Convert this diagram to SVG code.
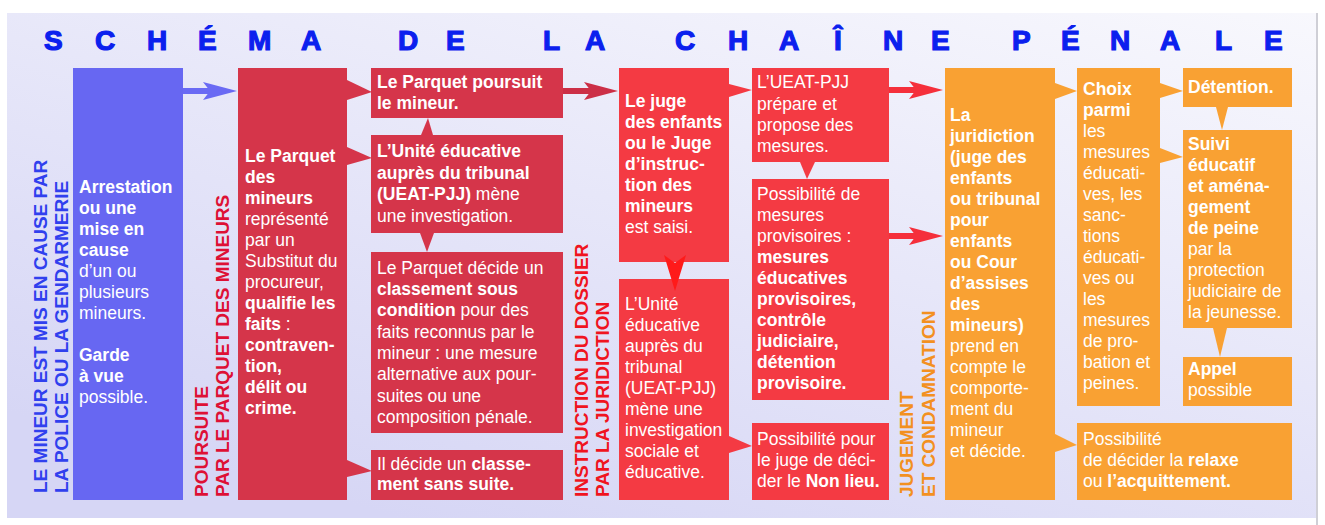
<svg xmlns="http://www.w3.org/2000/svg" width="1325" height="525" viewBox="0 0 1325 525">
<defs>
<linearGradient id="bg" x1="1" y1="0" x2="0.3" y2="1">
<stop offset="0" stop-color="#f8f8fd"/>
<stop offset="1" stop-color="#d6d6f5"/>
</linearGradient>
<marker id="mb" markerUnits="userSpaceOnUse" markerWidth="34" markerHeight="20" viewBox="0 0 34 20" refX="14" refY="10" orient="auto"><path d="M0,1 L34,10 L0,19 L7,10 z" fill="#6a6af4"/></marker>
<marker id="md" markerUnits="userSpaceOnUse" markerWidth="34" markerHeight="20" viewBox="0 0 34 20" refX="14" refY="10" orient="auto"><path d="M0,1 L34,10 L0,19 L7,10 z" fill="#cc2f47"/></marker>
<marker id="mr" markerUnits="userSpaceOnUse" markerWidth="34" markerHeight="20" viewBox="0 0 34 20" refX="14" refY="10" orient="auto"><path d="M0,1 L34,10 L0,19 L7,10 z" fill="#f52f3b"/></marker>
</defs>
<style>
text{font-family:"Liberation Sans",Arial,sans-serif}
.t{font-size:17.5px;fill:#ffffff}
.b{font-weight:bold}
.v{font-size:19px;font-weight:bold}
.blue{fill:#6767f2}
.dred{fill:#d5354a}
.red{fill:#f43a43}
.org{fill:#f9a133}
.title{font-size:28px;font-weight:bold;fill:#0b20ee;stroke:#0b20ee;stroke-width:1.2}
</style>
<rect x="0" y="0" width="1325" height="525" fill="#ffffff"/>
<rect x="7" y="13" width="1309" height="505" fill="url(#bg)"/>
<line x1="1317" y1="13" x2="1317" y2="525" stroke="#cfcfd6" stroke-width="2"/>

<g id="title">
<text class="title" y="50" x="44 95 147 198 248 301 350 398 446 500 543 585 630 675 728 779 834 883 931 975 1012 1061 1110 1160 1215 1264">SCHÉMA DE LA CHAÎNE PÉNALE</text>
</g>

<g id="labels">
<text class="v" fill="#3040ee" transform="translate(47,493) rotate(-90)">LE MINEUR EST MIS EN CAUSE PAR</text>
<text class="v" fill="#3040ee" transform="translate(68,493) rotate(-90)">LA POLICE OU LA GENDARMERIE</text>
<text class="v" fill="#de1035" transform="translate(208,497) rotate(-90)">POURSUITE</text>
<text class="v" fill="#de1035" transform="translate(229,497) rotate(-90)">PAR LE PARQUET DES MINEURS</text>
<text class="v" fill="#f01420" transform="translate(588,497) rotate(-90)">INSTRUCTION DU DOSSIER</text>
<text class="v" fill="#f01420" transform="translate(609,497) rotate(-90)">PAR LA JURIDICTION</text>
<text class="v" fill="#f39020" transform="translate(913,497) rotate(-90)">JUGEMENT</text>
<text class="v" fill="#f39020" transform="translate(935,497) rotate(-90)">ET CONDAMNATION</text>
</g>

<g id="n-arrestation">
<rect class="blue" x="73" y="68" width="110" height="432"/>
<text class="t" x="79"><tspan class="b" x="79" y="193">Arrestation</tspan><tspan class="b" x="79" y="214">ou une</tspan><tspan class="b" x="79" y="235">mise en</tspan><tspan class="b" x="79" y="256">cause</tspan><tspan x="79" y="277">d’un ou</tspan><tspan x="79" y="298">plusieurs</tspan><tspan x="79" y="319">mineurs.</tspan><tspan class="b" x="79" y="361">Garde</tspan><tspan class="b" x="79" y="382">à vue</tspan><tspan x="79" y="403">possible.</tspan></text>
</g>

<g id="n-parquet-mineurs">
<rect class="dred" x="238" y="68" width="109" height="432"/>
<text class="t"><tspan class="b" x="245" y="162">Le Parquet</tspan><tspan class="b" x="245" y="183">des</tspan><tspan class="b" x="245" y="204">mineurs</tspan><tspan x="245" y="225">représenté</tspan><tspan x="245" y="246">par un</tspan><tspan x="245" y="267">Substitut du</tspan><tspan x="245" y="288">procureur,</tspan><tspan class="b" x="245" y="309">qualifie les</tspan><tspan class="b" x="245" y="330">faits</tspan><tspan> :</tspan><tspan class="b" x="245" y="351">contraven-</tspan><tspan class="b" x="245" y="372">tion,</tspan><tspan class="b" x="245" y="393">délit ou</tspan><tspan class="b" x="245" y="414">crime.</tspan></text>
</g>

<g id="n-poursuit">
<rect class="dred" x="371" y="68" width="192" height="50"/>
<text class="t b"><tspan x="377" y="88">Le Parquet poursuit</tspan><tspan x="377" y="109">le mineur.</tspan></text>
</g>

<g id="n-ueat1">
<rect class="dred" x="371" y="135" width="192" height="98"/>
<text class="t"><tspan class="b" x="377" y="157">L’Unité éducative</tspan><tspan class="b" x="377" y="179">auprès du tribunal</tspan><tspan class="b" x="377" y="200">(UEAT-PJJ)</tspan><tspan> mène</tspan><tspan x="377" y="222">une investigation.</tspan></text>
</g>

<g id="n-classement-condition">
<rect class="dred" x="371" y="252" width="192" height="181"/>
<text class="t"><tspan x="377" y="274">Le Parquet décide un</tspan><tspan class="b" x="377" y="295">classement sous</tspan><tspan class="b" x="377" y="316">condition</tspan><tspan> pour des</tspan><tspan x="377" y="338">faits reconnus par le</tspan><tspan x="377" y="359">mineur : une mesure</tspan><tspan x="377" y="380">alternative aux pour-</tspan><tspan x="377" y="402">suites ou une</tspan><tspan x="377" y="423">composition pénale.</tspan></text>
</g>

<g id="n-sans-suite">
<rect class="dred" x="371" y="450" width="192" height="50"/>
<text class="t"><tspan x="377" y="470">Il décide un </tspan><tspan class="b">classe-</tspan><tspan class="b" x="377" y="490">ment sans suite.</tspan></text>
</g>

<g id="n-juge">
<rect class="red" x="619" y="68" width="110" height="194"/>
<text class="t"><tspan class="b" x="625" y="107">Le juge</tspan><tspan class="b" x="625" y="128">des enfants</tspan><tspan class="b" x="625" y="149">ou le Juge</tspan><tspan class="b" x="625" y="170">d’instruc-</tspan><tspan class="b" x="625" y="191">tion des</tspan><tspan class="b" x="625" y="212">mineurs</tspan><tspan x="625" y="233">est saisi.</tspan></text>
</g>

<g id="n-ueat2">
<rect class="red" x="619" y="279" width="110" height="221"/>
<text class="t"><tspan x="625" y="310">L’Unité</tspan><tspan x="625" y="331">éducative</tspan><tspan x="625" y="352">auprès du</tspan><tspan x="625" y="373">tribunal</tspan><tspan x="625" y="394">(UEAT-PJJ)</tspan><tspan x="625" y="415">mène une</tspan><tspan x="625" y="436">investigation</tspan><tspan x="625" y="457">sociale et</tspan><tspan x="625" y="478">éducative.</tspan></text>
</g>

<g id="n-propose">
<rect class="red" x="752" y="68" width="137" height="94"/>
<text class="t"><tspan x="757" y="88">L’UEAT-PJJ</tspan><tspan x="757" y="110">prépare et</tspan><tspan x="757" y="131">propose des</tspan><tspan x="757" y="152">mesures.</tspan></text>
</g>

<g id="n-provisoires">
<rect class="red" x="752" y="179" width="137" height="221"/>
<text class="t"><tspan x="757" y="200">Possibilité de</tspan><tspan x="757" y="221">mesures</tspan><tspan x="757" y="242">provisoires :</tspan><tspan class="b" x="757" y="263">mesures</tspan><tspan class="b" x="757" y="284">éducatives</tspan><tspan class="b" x="757" y="305">provisoires,</tspan><tspan class="b" x="757" y="326">contrôle</tspan><tspan class="b" x="757" y="347">judiciaire,</tspan><tspan class="b" x="757" y="368">détention</tspan><tspan class="b" x="757" y="389">provisoire.</tspan></text>
</g>

<g id="n-non-lieu">
<rect class="red" x="752" y="423" width="137" height="77"/>
<text class="t"><tspan x="757" y="445">Possibilité pour</tspan><tspan x="757" y="466">le juge de déci-</tspan><tspan x="757" y="487">der le </tspan><tspan class="b">Non lieu.</tspan></text>
</g>

<g id="n-juridiction">
<rect class="org" x="945" y="68" width="110" height="432"/>
<text class="t"><tspan class="b" x="950" y="121">La</tspan><tspan class="b" x="950" y="142">juridiction</tspan><tspan class="b" x="950" y="163">(juge des</tspan><tspan class="b" x="950" y="184">enfants</tspan><tspan class="b" x="950" y="205">ou tribunal</tspan><tspan class="b" x="950" y="226">pour</tspan><tspan class="b" x="950" y="247">enfants</tspan><tspan class="b" x="950" y="268">ou Cour</tspan><tspan class="b" x="950" y="289">d’assises</tspan><tspan class="b" x="950" y="310">des</tspan><tspan class="b" x="950" y="331">mineurs)</tspan><tspan x="950" y="352">prend en</tspan><tspan x="950" y="373">compte le</tspan><tspan x="950" y="394">comporte-</tspan><tspan x="950" y="415">ment du</tspan><tspan x="950" y="436">mineur</tspan><tspan x="950" y="457">et décide.</tspan></text>
</g>

<g id="n-choix">
<rect class="org" x="1077" y="68" width="83" height="338"/>
<text class="t"><tspan class="b" x="1083" y="95">Choix</tspan><tspan class="b" x="1083" y="116">parmi</tspan><tspan x="1083" y="137">les</tspan><tspan x="1083" y="158">mesures</tspan><tspan x="1083" y="179">éducati-</tspan><tspan x="1083" y="200">ves, les</tspan><tspan x="1083" y="221">sanc-</tspan><tspan x="1083" y="242">tions</tspan><tspan x="1083" y="263">éducati-</tspan><tspan x="1083" y="284">ves ou</tspan><tspan x="1083" y="305">les</tspan><tspan x="1083" y="326">mesures</tspan><tspan x="1083" y="347">de pro-</tspan><tspan x="1083" y="368">bation et</tspan><tspan x="1083" y="389">peines.</tspan></text>
</g>

<g id="n-detention">
<rect class="org" x="1183" y="68" width="109" height="39"/>
<text class="t b" x="1188" y="93">Détention.</text>
</g>

<g id="n-suivi">
<rect class="org" x="1183" y="130" width="109" height="198"/>
<text class="t"><tspan class="b" x="1188" y="150">Suivi</tspan><tspan class="b" x="1188" y="171">éducatif</tspan><tspan class="b" x="1188" y="192">et aména-</tspan><tspan class="b" x="1188" y="213">gement</tspan><tspan class="b" x="1188" y="234">de peine</tspan><tspan x="1188" y="255">par la</tspan><tspan x="1188" y="276">protection</tspan><tspan x="1188" y="297">judiciaire de</tspan><tspan x="1188" y="318">la jeunesse.</tspan></text>
</g>

<g id="n-appel">
<rect class="org" x="1183" y="357" width="109" height="49"/>
<text class="t"><tspan class="b" x="1188" y="375">Appel</tspan><tspan x="1188" y="396">possible</tspan></text>
</g>

<g id="n-relaxe">
<rect class="org" x="1077" y="423" width="215" height="77"/>
<text class="t"><tspan x="1083" y="445">Possibilité</tspan><tspan x="1083" y="466">de décider la </tspan><tspan class="b">relaxe</tspan><tspan x="1083" y="487">ou </tspan><tspan class="b">l’acquittement.</tspan></text>
</g>

<g id="connectors">
<line x1="183" y1="91" x2="217" y2="91" stroke="#6a6af4" stroke-width="6" marker-end="url(#mb)"/>
<line x1="563" y1="91" x2="598" y2="91" stroke="#cc2f47" stroke-width="6" marker-end="url(#md)"/>
<line x1="889" y1="90" x2="923" y2="90" stroke="#f52f3b" stroke-width="6" marker-end="url(#mr)"/>
<line x1="889" y1="236" x2="923" y2="236" stroke="#f52f3b" stroke-width="6" marker-end="url(#mr)"/>
<polygon class="dred" points="347,80 372,92 347,100"/>
<polygon class="dred" points="347,147 372,158 347,165"/>
<polygon class="dred" points="347,460 372,471 347,477"/>
<polygon class="dred" points="421,135 433,135 428,118"/>
<polygon class="dred" points="420,233 434,233 427,252"/>
<polygon class="red" points="729,84 752,90 729,97"/>
<polygon class="red" points="729,436 752,446 729,453"/>
<polygon class="red" points="800,162 815,162 807,179"/>
<polygon fill="#ff1a1a" points="664,255 675,263 686,255 675,291"/>
<polygon class="org" points="1055,83 1077,91 1055,99"/>
<polygon class="org" points="1055,434 1077,445 1055,452"/>
<polygon class="org" points="1160,83 1183,91 1160,98"/>
<polygon class="org" points="1160,148 1183,157 1160,163"/>
<polygon class="org" points="1216,107 1228,107 1222,130"/>
<polygon class="org" points="1213,328 1227,328 1220,357"/>
</g>
</svg>
